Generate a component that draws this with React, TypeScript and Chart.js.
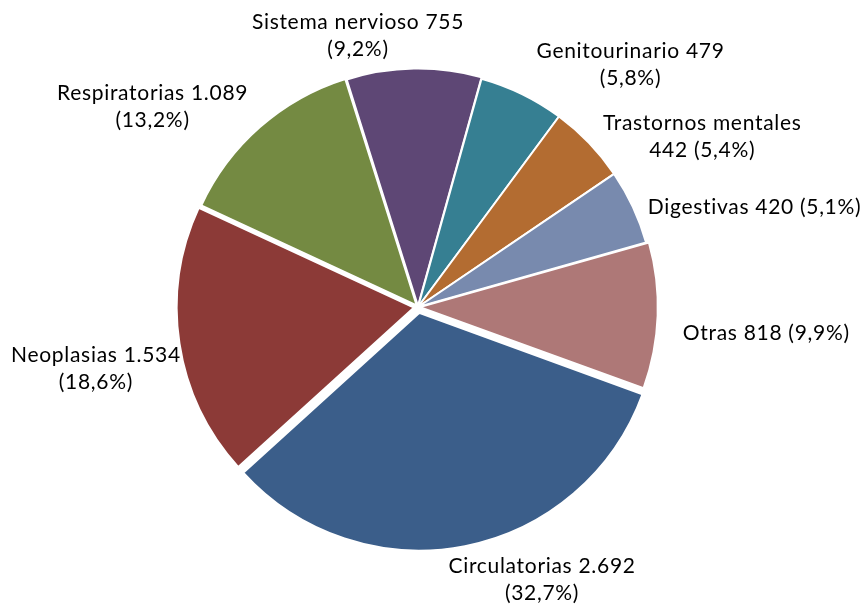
import React, { useEffect, useRef } from 'react';
import { Chart, registerables } from 'chart.js';

Chart.register(...registerables);

const categories = [
  'Circulatorias',
  'Neoplasias',
  'Respiratorias',
  'Sistema nervioso',
  'Genitourinario',
  'Trastornos mentales',
  'Digestivas',
  'Otras',
];
const values = [2692, 1534, 1089, 755, 479, 442, 420, 818];
const colors = ['#3B5E8A', '#8C3A37', '#748A42', '#5E4775', '#367F92', '#B36C31', '#788AAE', '#AE7877'];
// explosion of each slice, in pixels
const explode = [6, 4, 2, 1, 0, 0, 0, 2];
// where the label text breaks: after the value ('pct'), after the name ('value'), or not at all
const labelBreak = ['pct', 'pct', 'pct', 'pct', 'pct', 'value', 'none', 'none'];
const labelNudge: [number, number][] = [
  [58, 2],
  [8, 20],
  [-38, 7],
  [-54, 4.5],
  [62, 6],
  [33, 21],
  [14, 11.5],
  [16, 17],
];

const total = values.reduce((a, b) => a + b, 0);
const fmtInt = (v: number) => v.toString().replace(/\B(?=(\d{3})+(?!\d))/g, '.');
const fmtPct = (v: number) => '(' + ((v / total) * 100).toFixed(1).replace('.', ',') + '%)';

function labelLines(i: number): string[] {
  const name = categories[i];
  const v = fmtInt(values[i]);
  const p = fmtPct(values[i]);
  if (labelBreak[i] === 'pct') return [name + ' ' + v, p];
  if (labelBreak[i] === 'value') return [name, v + ' ' + p];
  return [name + ' ' + v + ' ' + p];
}

const FONT = '21px Lato';
const LINE_H = 27;

const outsideLabels = {
  id: 'outsideLabels',
  afterDraw(chart: any) {
    const ctx = chart.ctx;
    const meta = chart.getDatasetMeta(0);
    ctx.save();
    ctx.font = FONT;
    try {
      (ctx as any).letterSpacing = '0.7px';
    } catch (e) {}
    ctx.fillStyle = '#000000';
    ctx.textAlign = 'center';
    ctx.textBaseline = 'middle';
    meta.data.forEach((arc: any, i: number) => {
      const { x, y, startAngle, endAngle, outerRadius } = arc.getProps(
        ['x', 'y', 'startAngle', 'endAngle', 'outerRadius'],
        true
      );
      const mid = (startAngle + endAngle) / 2;
      const dx = Math.cos(mid);
      const dy = Math.sin(mid);
      const lines = labelLines(i);
      const w = Math.max(...lines.map((l) => ctx.measureText(l).width));
      const h = lines.length * LINE_H;
      const ax = x + dx * (outerRadius + 12);
      const ay = y + dy * (outerRadius + 12);
      const cx = ax + (dx * w) / 2 + labelNudge[i][0];
      const cy = ay + (dy * h) / 2 + labelNudge[i][1];
      lines.forEach((l, k) => {
        ctx.fillText(l, cx, cy - h / 2 + LINE_H / 2 + k * LINE_H);
      });
    });
    ctx.restore();
  },
};

export default function App() {
  const ref = useRef<HTMLCanvasElement>(null);
  useEffect(() => {
    if (!ref.current) return;
    const chart = new Chart(ref.current, {
      type: 'pie',
      data: {
        labels: categories,
        datasets: [
          {
            data: values,
            backgroundColor: colors,
            borderColor: '#ffffff',
            borderWidth: 2,
            // Chart.js draws an arc's offset at a quarter of its value
            offset: explode.map((e) => e * 4),
          },
        ],
      },
      options: {
        responsive: true,
        maintainAspectRatio: false,
        animation: false,
        rotation: 110,
        radius: 237,
        layout: { padding: { left: 0, right: 27, top: 2, bottom: 0 } },
        plugins: {
          legend: { display: false },
          tooltip: { enabled: false },
        },
      },
      plugins: [outsideLabels],
    });
    return () => chart.destroy();
  }, []);
  return (
    <div style={{ position: 'fixed', left: 0, top: 0, width: 863, height: 612, background: '#fff' }}>
      <canvas ref={ref} />
    </div>
  );
}
